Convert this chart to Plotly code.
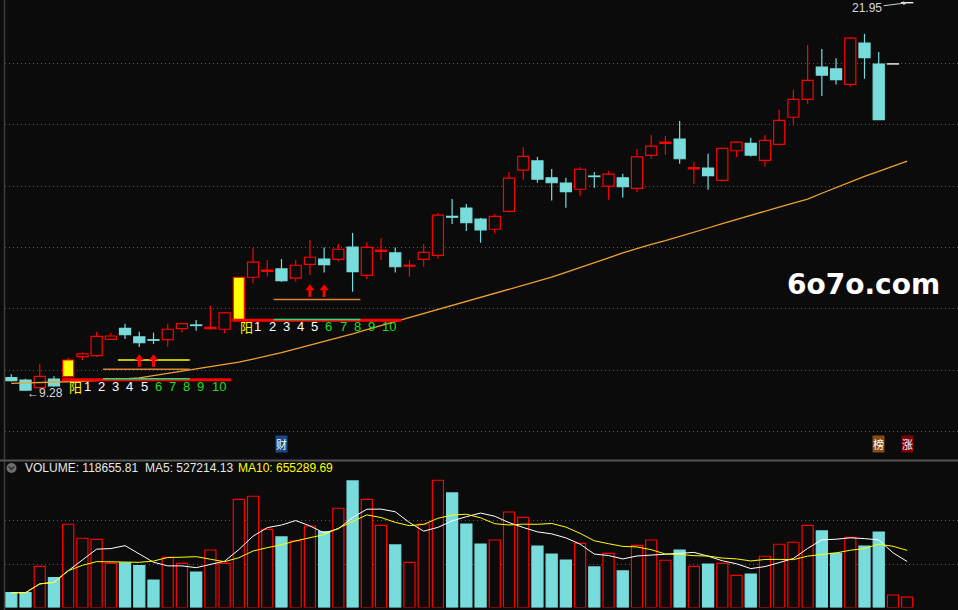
import plotly.graph_objects as go
import pandas as pd

# DATA -------------------------------------------------------------------------------------------

opens = [9.71, 9.63, 9.38, 9.66, 9.74, 10.39, 10.42, 10.95, 11.31, 11.03,
         10.94, 10.94, 11.30, 11.42, 11.30, 11.28, 11.58, 12.97, 13.16, 13.24,
         12.94, 13.39, 13.56, 13.55, 13.95, 13.03, 13.81, 13.76, 13.33, 13.55,
         13.68, 14.95, 15.22, 14.86, 14.53, 15.11, 16.45, 16.75, 16.20, 16.03,
         15.83, 16.26, 15.93, 16.20, 15.86, 16.93, 17.32, 17.46, 16.49, 16.52,
         16.12, 17.08, 17.32, 16.77, 17.29, 18.17, 18.75, 19.80, 19.74, 19.24,
         20.58, 19.90, 19.90, 21.89]
highs = [9.82, 9.67, 10.15, 9.75, 10.35, 10.52, 11.19, 11.16, 11.46, 11.20,
         11.17, 11.46, 11.49, 11.58, 12.04, 11.82, 12.97, 13.91, 13.53, 13.56,
         13.53, 14.18, 13.94, 14.05, 14.41, 14.11, 14.24, 13.94, 13.53, 14.05,
         15.06, 15.51, 15.35, 14.90, 15.03, 16.39, 17.20, 16.88, 16.49, 16.20,
         16.55, 16.39, 16.42, 16.33, 17.14, 17.59, 17.56, 18.05, 16.72, 16.98,
         17.17, 17.38, 17.50, 17.59, 18.41, 19.06, 20.52, 20.39, 20.09, 20.78,
         20.88, 20.29, 19.90, 21.89]
lows = [9.58, 9.28, 9.35, 9.42, 9.73, 10.28, 10.38, 10.94, 10.96, 10.70,
        10.80, 10.71, 11.17, 11.23, 11.26, 11.15, 11.58, 12.77, 12.99, 12.82,
        12.83, 13.04, 13.12, 13.48, 12.50, 12.91, 13.53, 13.12, 12.99, 13.31,
        13.57, 14.70, 14.47, 14.09, 14.39, 15.07, 16.14, 16.04, 15.46, 15.23,
        15.62, 15.88, 15.49, 15.56, 15.73, 16.82, 16.95, 16.66, 16.01, 15.81,
        16.11, 16.87, 16.89, 16.56, 17.28, 17.90, 18.61, 18.86, 19.23, 19.16,
        19.42, 18.09, 19.90, 21.89]
closes = [9.61, 9.30, 9.75, 9.44, 10.28, 10.48, 11.05, 11.06, 11.10, 10.84,
          10.92, 11.28, 11.46, 11.40, 11.34, 11.81, 12.97, 13.46, 13.20, 12.86,
          13.36, 13.62, 13.38, 13.88, 13.15, 13.94, 13.85, 13.31, 13.36, 13.78,
          14.99, 14.92, 14.74, 14.51, 14.95, 16.19, 16.90, 16.16, 16.04, 15.75,
          16.48, 16.24, 16.32, 15.91, 16.88, 17.23, 17.36, 16.82, 16.53, 16.27,
          17.16, 17.36, 16.94, 17.42, 18.07, 18.75, 19.37, 19.54, 19.39, 20.74,
          20.11, 18.09, 19.90, 21.89]

volumes = [170000, 170000, 474000, 343000, 957000, 796000, 784000, 508000, 512000, 481000,
           316000, 577000, 508000, 408000, 661000, 508000, 1244000, 1279000, 899000, 811000,
           765000, 937000, 872000, 1141000, 1455000, 1244000, 945000, 719000, 520000, 960000,
           1463000, 1317000, 960000, 730000, 776000, 1098000, 1037000, 707000, 615000, 546000,
           738000, 466000, 623000, 420000, 715000, 776000, 543000, 661000, 474000, 500000,
           508000, 370000, 385000, 589000, 727000, 750000, 945000, 880000, 623000, 807000,
           707000, 868000, 144000, 118655.81]

# long moving average drawn on the price panel
price_ma = [9.52, 9.53, 9.54, 9.56, 9.57, 9.59, 9.61, 9.64, 9.66, 9.70,
            9.77, 9.84, 9.91, 9.98, 10.05, 10.13, 10.21, 10.31, 10.41, 10.52,
            10.64, 10.76, 10.87, 11.00, 11.13, 11.27, 11.40, 11.53, 11.67, 11.80,
            11.94, 12.07, 12.20, 12.33, 12.46, 12.59, 12.71, 12.84, 12.97, 13.13,
            13.28, 13.44, 13.60, 13.76, 13.91, 14.04, 14.16, 14.29, 14.43, 14.57,
            14.71, 14.85, 14.98, 15.11, 15.25, 15.38, 15.51, 15.70, 15.89, 16.08,
            16.25, 16.41, 16.58, 16.74]

# "阳" signal bars and their marker levels
yang_bars = [5, 17]
yang_base = [9.64, 11.57]
support_lvl = [9.98, 12.25]
yellow_lvl = [10.28, None]
arrow_tip = [10.47, 12.74]
count_labels = ['阳', '1', '2', '3', '4', '5', '6', '7', '8', '9', '10']

max_label = '21.95'
min_label = '9.28'
vol_header = ['VOLUME: 118655.81', 'MA5: 527214.13', 'MA10: 655289.69']
watermark = '6o7o.com'

# STYLE ------------------------------------------------------------------------------------------

W, H = 958, 610
BG = '#0b0b0b'
RED = '#ff0000'
CYAN = '#78dcdc'
GRID = '#5a5a5a'
LATIN = 'Liberation Sans, Arial, sans-serif'
CJK = 'Noto Sans CJK SC, sans-serif'
BAR_W = 0.78

def px_x(p):
    return p / W

def px_y(p):
    return 1 - p / H

n = len(closes)
idx = list(range(1, n + 1))

# CANDLES ----------------------------------------------------------------------------------------

body_base, body_h, body_fill, body_edge = [], [], [], []
wick_red_x, wick_red_y, wick_cyan_x, wick_cyan_y = [], [], [], []
vol_fill, vol_edge = [], []

for i in range(n):
    o, h, l, c = opens[i], highs[i], lows[i], closes[i]
    lo, hi = min(o, c), max(o, c)
    body_base.append(lo)
    body_h.append(max(hi - lo, 0.004))
    if c == o:
        body_fill.append('#ffffff')
        body_edge.append('#ffffff')
        up = i == 0 or c >= closes[i - 1]
    elif c > o:
        up = True
        if (i + 1) in yang_bars:
            body_fill.append('#ffff00')
        else:
            body_fill.append(BG)
        body_edge.append(RED)
    else:
        up = False
        body_fill.append(CYAN)
        body_edge.append(CYAN)
    wx, wy = (wick_red_x, wick_red_y) if c >= o else (wick_cyan_x, wick_cyan_y)
    if h > hi:
        wx += [i + 1, i + 1, None]
        wy += [h, hi, None]
    if l < lo:
        wx += [i + 1, i + 1, None]
        wy += [lo, l, None]
    vol_fill.append(BG if up else CYAN)
    vol_edge.append(RED if up else CYAN)

traces = []
traces.append(go.Scatter(x=wick_red_x, y=wick_red_y, mode='lines',
                         line=dict(color=RED, width=1.2), xaxis='x', yaxis='y'))
traces.append(go.Scatter(x=wick_cyan_x, y=wick_cyan_y, mode='lines',
                         line=dict(color=CYAN, width=1.2), xaxis='x', yaxis='y'))
traces.append(go.Bar(x=idx, y=body_h, base=body_base, width=BAR_W,
                     marker=dict(color=body_fill, line=dict(color=body_edge, width=1.2)),
                     xaxis='x', yaxis='y'))

# long MA
traces.append(go.Scatter(x=idx, y=price_ma, mode='lines',
                         line=dict(color='#f0a030', width=1.3), xaxis='x', yaxis='y'))

# signal markings
annotations = []
for k, b in enumerate(yang_bars):
    traces.append(go.Scatter(x=[b - 0.45, b + 11.45], y=[yang_base[k]] * 2, mode='lines',
                             line=dict(color=RED, width=3), xaxis='x', yaxis='y'))
    traces.append(go.Scatter(x=[b + 2.45, b + 8.55], y=[yang_base[k] + 0.03] * 2, mode='lines',
                             line=dict(color='#20e080', width=1.5), xaxis='x', yaxis='y'))
    traces.append(go.Scatter(x=[b + 2.45, b + 8.55], y=[support_lvl[k]] * 2, mode='lines',
                             line=dict(color='#d9843a', width=1.5), xaxis='x', yaxis='y'))
    if yellow_lvl[k] is not None:
        traces.append(go.Scatter(x=[b + 3.5, b + 8.55], y=[yellow_lvl[k]] * 2, mode='lines',
                                 line=dict(color='#ffff00', width=1.5), xaxis='x', yaxis='y'))
    # red up arrows on bars 5 and 6 after the signal
    ax_ = [b + 5, b + 6]
    stem_x, stem_y = [], []
    for a in ax_:
        stem_x += [a, a, None]
        stem_y += [arrow_tip[k] - 0.19, arrow_tip[k] - 0.41, None]
    traces.append(go.Scatter(x=stem_x, y=stem_y, mode='lines',
                             line=dict(color=RED, width=3), xaxis='x', yaxis='y'))
    traces.append(go.Scatter(x=ax_, y=[arrow_tip[k] - 0.13] * 2, mode='markers',
                             marker=dict(symbol='triangle-up', size=8, color=RED),
                             xaxis='x', yaxis='y'))
    for j, t in enumerate(count_labels):
        if j == 0:
            col, fam, shift = '#ffff00', CJK, 5
        elif j <= 5:
            col, fam, shift = '#ffffff', LATIN, 3
        else:
            col, fam, shift = '#22dd22', LATIN, 3
        annotations.append(dict(x=b + j - 0.05, y=yang_base[k], xref='x', yref='y',
                                text=t, showarrow=False, xanchor='left', yanchor='top',
                                yshift=shift, font=dict(size=13, color=col, family=fam)))

# VOLUME -----------------------------------------------------------------------------------------

vol = pd.Series(volumes)
ma5 = vol.rolling(5, min_periods=1).mean()
ma10 = vol.rolling(10, min_periods=1).mean()

traces.append(go.Bar(x=idx, y=volumes, width=BAR_W,
                     marker=dict(color=vol_fill, line=dict(color=vol_edge, width=1.2)),
                     xaxis='x2', yaxis='y2'))
traces.append(go.Scatter(x=idx, y=ma5, mode='lines', line=dict(color='#ffffff', width=1),
                         xaxis='x2', yaxis='y2'))
traces.append(go.Scatter(x=idx, y=ma10, mode='lines', line=dict(color='#ffff00', width=1),
                         xaxis='x2', yaxis='y2'))

# TEXT -------------------------------------------------------------------------------------------

annotations.append(dict(x=n, y=closes[-1], xref='x', yref='y', text=max_label,
                        showarrow=True, ax=-40, ay=5, arrowhead=2, arrowsize=0.8,
                        arrowwidth=1, arrowcolor='#d0d0d0',
                        font=dict(size=12, color='#d8d8d8', family=LATIN)))
low_i = lows.index(min(lows))
annotations.append(dict(x=low_i + 1, y=lows[low_i], xref='x', yref='y', text='←' + min_label,
                        showarrow=False, xanchor='left', yanchor='middle', xshift=-1, yshift=-2,
                        font=dict(size=12, color='#d8d8d8', family=LATIN)))

for label, bar, bg in [('财', 20, '#1d4a84'), ('榜', 62, '#8a4a12'), ('涨', 64, '#800000')]:
    annotations.append(dict(x=bar, y=px_y(452.5), xref='x', yref='paper', text=label,
                            showarrow=False, bgcolor=bg, borderpad=0,
                            font=dict(size=11, color='#ffffff', family=CJK)))

for text, x0, col in zip(vol_header, [23, 142.7, 235.7], ['#e8e8e8', '#e8e8e8', '#ffff00']):
    annotations.append(dict(x=px_x(x0), y=px_y(468), xref='paper', yref='paper', text=text,
                            showarrow=False, xanchor='left', yanchor='middle',
                            font=dict(size=12, color=col, family=LATIN)))

annotations.append(dict(x=px_x(863), y=px_y(284), xref='paper', yref='paper',
                        xanchor='center', yanchor='middle',
                        text='<b>%s</b>' % watermark, showarrow=False,
                        font=dict(size=28, color='#ffffff', family='DejaVu Sans')))

shapes = [
    dict(type='line', xref='paper', yref='paper', x0=px_x(4.5), x1=px_x(4.5), y0=0, y1=1,
         line=dict(color='#3c3c3c', width=1.5)),
    dict(type='line', xref='paper', yref='paper', x0=0, x1=1, y0=px_y(460.5), y1=px_y(460.5),
         line=dict(color='#555555', width=2)),
    dict(type='circle', xref='paper', yref='paper', x0=px_x(6.5), x1=px_x(16.5),
         y0=px_y(473), y1=px_y(463), fillcolor='#6e6e6e', line=dict(width=0)),
    dict(type='path', xref='paper', yref='paper',
         path=f'M {px_x(8.8)} {px_y(466.5)} L {px_x(11.5)} {px_y(469.5)} L {px_x(14.2)} {px_y(466.5)}',
         line=dict(color='#2a2a2a', width=1.5)),
]

# LAYOUT -----------------------------------------------------------------------------------------

x_range = [0.557, 67.575]
axis_x = dict(domain=[px_x(5), 1], range=x_range, showgrid=False, zeroline=False,
              showticklabels=False, ticks='')
grid_style = dict(showticklabels=False, zeroline=False, ticks='', showgrid=True,
                  gridcolor=GRID, griddash='1px,3px', gridwidth=1, tickmode='array')
layout = go.Layout(
    width=W, height=H,
    margin=dict(l=0, r=0, t=0, b=0),
    paper_bgcolor=BG, plot_bgcolor=BG,
    showlegend=False,
    barmode='overlay',
    xaxis=dict(axis_x, anchor='y'),
    xaxis2=dict(axis_x, anchor='y2'),
    yaxis=dict(grid_style, domain=[px_y(460), 1], range=[7.03, 21.98],
               tickvals=[7.97, 9.955, 11.94, 13.95, 15.935, 17.95, 19.93]),
    yaxis2=dict(grid_style, domain=[px_y(607.5), px_y(476)], range=[0, 1512000],
                tickvals=[500000, 1000000]),
    annotations=annotations,
    shapes=shapes,
)

fig = go.Figure(data=traces, layout=layout)
# page body has a default 8px margin; drop it so the figure sits at the window corner
fig.write_html("out.html", config={'displayModeBar': False},
               post_script="document.body.style.margin='0';"
                           "document.body.style.background='%s';" % BG)
